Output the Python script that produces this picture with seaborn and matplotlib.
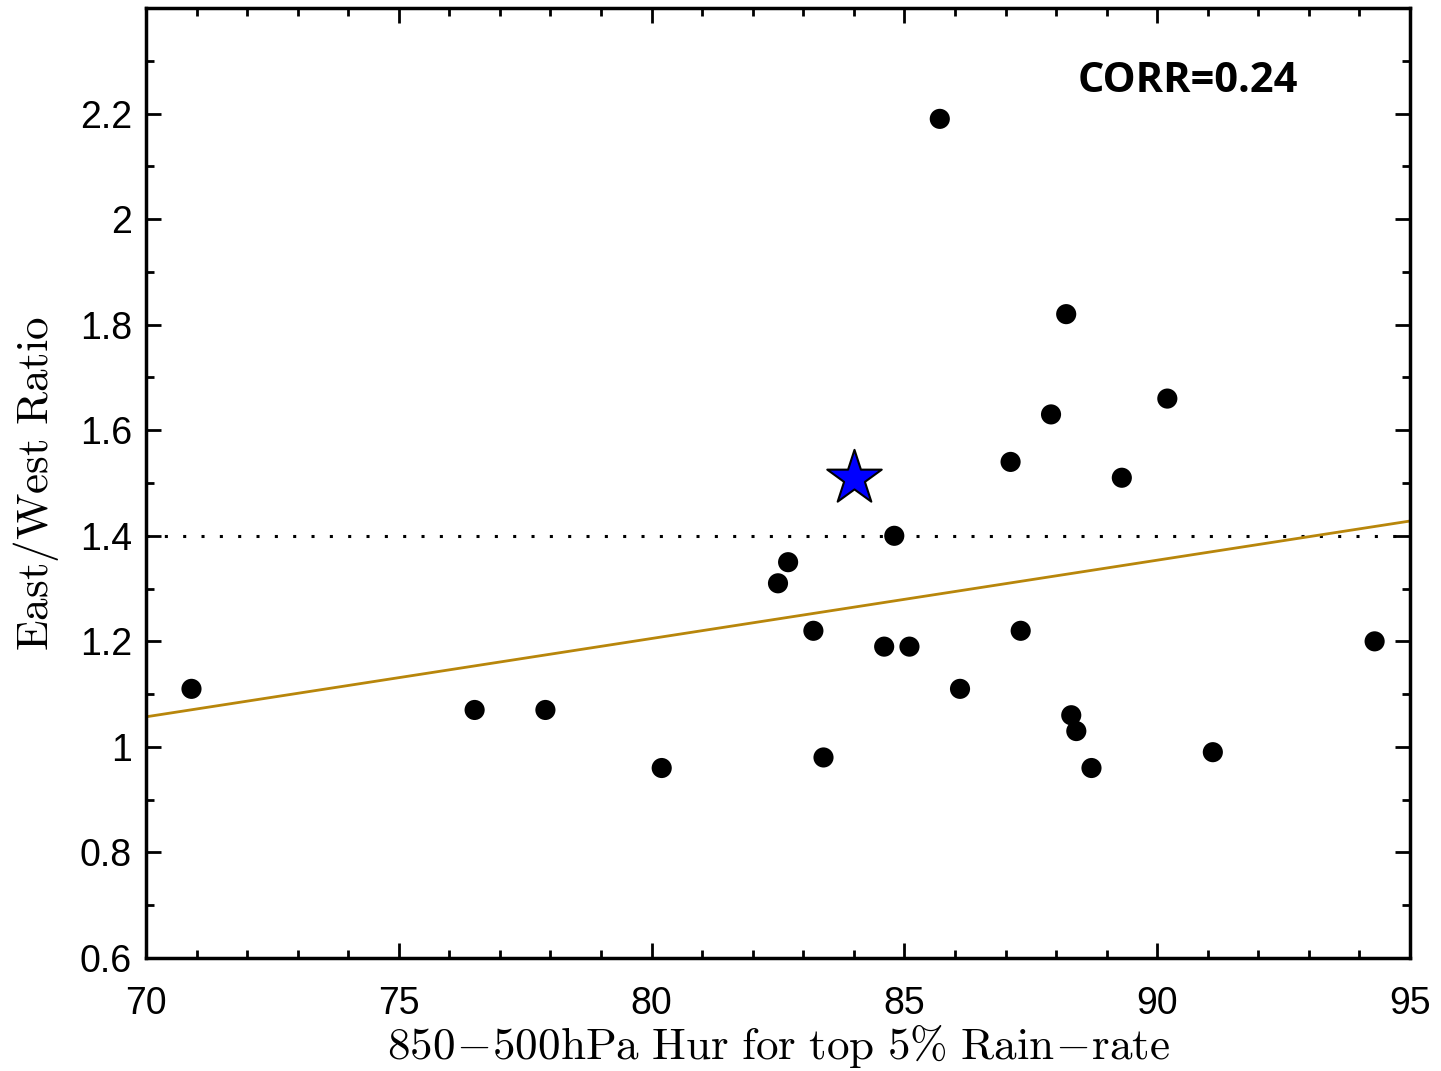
import numpy as np
import pandas as pd
import matplotlib
matplotlib.use('Agg')
import matplotlib.pyplot as plt
import seaborn as sns
from matplotlib.ticker import MultipleLocator

# Scatter points (hur, east/west ratio)
hur = [70.9, 76.5, 77.9, 80.2, 82.5, 82.7, 83.2, 83.4, 84.6, 84.8, 85.1, 85.7,
       86.1, 87.1, 87.3, 87.9, 88.2, 88.3, 88.4, 88.7, 89.3, 90.2, 91.1, 94.3]
ratio = [1.11, 1.07, 1.07, 0.96, 1.31, 1.35, 1.22, 0.98, 1.19, 1.40, 1.19, 2.19,
         1.11, 1.54, 1.22, 1.63, 1.82, 1.06, 1.03, 0.96, 1.51, 1.66, 0.99, 1.20]

# Highlighted point (star)
star_hur = [84.0]
star_ratio = [1.51]

# Regression line end points and reference level
fit_x = [70, 95]
fit_y = [1.057, 1.428]
ref_level = 1.4
corr_text = 'CORR=0.24'

x_ticks = [70, 75, 80, 85, 90, 95]
y_ticks = [0.6, 0.8, 1.0, 1.2, 1.4, 1.6, 1.8, 2.0, 2.2]
y_tick_labels = ['0.6', '0.8', '1', '1.2', '1.4', '1.6', '1.8', '2', '2.2']

df = pd.DataFrame({'hur': hur, 'ratio': ratio})

sns.set_style('ticks')
plt.rcParams['font.family'] = ['Liberation Sans', 'DejaVu Sans']
plt.rcParams['mathtext.fontset'] = 'cm'
plt.rcParams['text.color'] = 'black'
plt.rcParams['axes.labelcolor'] = 'black'

fig = plt.figure(figsize=(14.41, 10.71), dpi=100)
ax = fig.add_axes([0.1013, 0.1055, 0.8772, 0.887])

ax.axhline(ref_level, color='black', linestyle=(0, (1, 5)), linewidth=2.2, zorder=1)
sns.lineplot(x=fit_x, y=fit_y, ax=ax, color='#b8860b', linewidth=2, zorder=2)
sns.scatterplot(data=df, x='hur', y='ratio', ax=ax, color='black', s=210,
                edgecolor='none', zorder=3)
sns.scatterplot(x=star_hur, y=star_ratio, ax=ax, marker='*', color='#0000ff',
                s=1700, edgecolor='black', linewidth=1.5, zorder=4)

ax.set_xlim(70, 95)
ax.set_ylim(0.6, 2.4)
ax.set_xticks(x_ticks)
ax.set_xticklabels([str(v) for v in x_ticks])
ax.set_yticks(y_ticks)
ax.set_yticklabels(y_tick_labels)
ax.xaxis.set_minor_locator(MultipleLocator(1))
ax.yaxis.set_minor_locator(MultipleLocator(0.1))

ax.tick_params(which='both', direction='in', top=True, right=True, width=2,
               labelsize=27, pad=10, colors='black')
ax.tick_params(axis='x', which='major', pad=20)
ax.tick_params(which='major', length=11)
ax.tick_params(which='minor', length=6)
for sp in ax.spines.values():
    sp.set_linewidth(2.5)
    sp.set_color('black')
    sp.set_visible(True)

ax.set_xlabel(r'$\mathrm{850\!-\!500hPa\ Hur\ for\ top\ 5\%\ Rain\!-\!rate}$',
              fontsize=32.5, labelpad=0)
ax.set_ylabel(r'$\mathrm{East/West\ Ratio}$', fontsize=32.5, labelpad=14)

ax.text(90.6, 2.26, corr_text, fontsize=30, fontweight='bold', color='black',
        family=['Open Sans', 'DejaVu Sans'], ha='center', va='center')

fig.savefig('out.png', dpi=100)
